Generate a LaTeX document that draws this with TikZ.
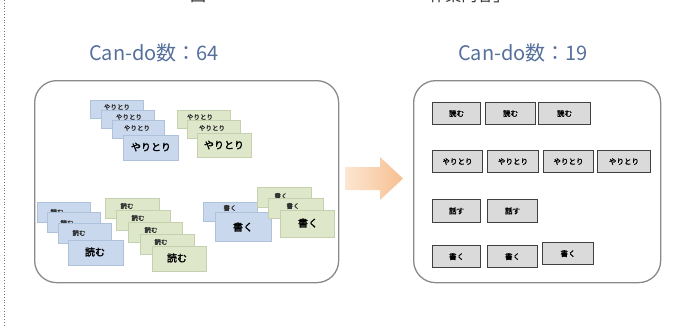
\documentclass[tikz,border=0pt]{standalone}
\usepackage{fontspec}
\newfontfamily\cjk[AutoFakeBold=2]{Noto Sans CJK JP}
\definecolor{titleblue}{HTML}{56709C}
\definecolor{cardblue}{HTML}{C9D8EC}
\definecolor{cardblueedge}{HTML}{AFC2DC}
\definecolor{cardgreen}{HTML}{DFE7CB}
\definecolor{cardgreenedge}{HTML}{C5D0AE}
\definecolor{boxgray}{HTML}{8A8A8A}
\definecolor{graycard}{HTML}{DADADA}
\definecolor{arrowL}{HTML}{FDE6D2}
\definecolor{arrowR}{HTML}{F6BF90}
\tikzset{
  bigbox/.style={draw=boxgray, line width=1.3pt, rounded corners=22pt, fill=white, anchor=north west, inner sep=0pt},
  titletext/.style={font=\cjk\fontsize{20}{22}\selectfont, text=titleblue},
  bcard/.style={fill=cardblue, draw=cardblueedge, line width=0.4pt, anchor=north west, inner sep=0pt},
  gcard/.style={fill=cardgreen, draw=cardgreenedge, line width=0.4pt, anchor=north west, inner sep=0pt},
  smalltxt/.style={font=\cjk\fontsize{6.5}{7}\selectfont\bfseries, text=black!80},
  bigtxt/.style={font=\cjk\fontsize{10}{11}\selectfont\bfseries, text=black},
  greycard/.style={fill=graycard, draw=black!75, line width=1.1pt, anchor=north west, inner sep=0pt,
    font=\cjk\fontsize{7.5}{8}\selectfont\bfseries, text=black},
  captiontxt/.style={font=\cjk\fontsize{16}{16}\selectfont, text=black!80}
}
% \mycard{style}{name}{x}{y}{w}{h}
\newcommand\mycard[6]{\node[#1, minimum width=#5pt, minimum height=#6pt] (#2) at (#3,#4) {};}
\begin{document}
\begin{tikzpicture}[x=1pt,y=-1pt]
\useasboundingbox (0,0) rectangle (695,327);
% dotted margin line
\coordinate (d1) at (4,0);
\coordinate (d2) at (4,327);
\draw[black!55, dotted, line width=0.8pt] (d1) -- (d2);
% cut-off caption (only its lower edge shows, as in the reference)
\node[captiontxt, anchor=base] (cap1) at (198,1) {図};
\node[captiontxt, anchor=base east] (cap2) at (513,1) {作業内容」};
% titles
\node[titletext] (tL) at (154,53) {Can-do数：64};
\node[titletext] (tR) at (523,53) {Can-do数：19};
% boxes
\node[bigbox, minimum width=304pt, minimum height=202pt] (L) at (34,80) {};
\node[bigbox, minimum width=247pt, minimum height=202pt] (R) at (413,80) {};
% arrow
\shade[left color=arrowL, right color=arrowR]
  (345,167) -- (380,167) -- (380,157) -- (403,178.5) -- (380,200) -- (380,190) -- (345,190) -- cycle;

% ---- left: top blue stack (やりとり)
\mycard{bcard}{a1}{90}{100}{53}{18}
\node[smalltxt] (a1t) at ([shift={(27,7)}]a1.north west) {やりとり};
\mycard{bcard}{a2}{101}{110}{53}{18}
\node[smalltxt] (a2t) at ([shift={(28,7)}]a2.north west) {やりとり};
\mycard{bcard}{a3}{112}{120}{52}{18}
\node[smalltxt] (a3t) at ([shift={(25,8)}]a3.north west) {やりとり};
\mycard{bcard}{a4}{123}{135}{55}{25}
\node[bigtxt] (a4t) at ([shift={(28,12)}]a4.north west) {やりとり};
% ---- left: top green stack (やりとり)
\mycard{gcard}{b1}{177}{110}{53}{18}
\node[smalltxt] (b1t) at ([shift={(23,7)}]b1.north west) {やりとり};
\mycard{gcard}{b2}{187}{120}{53}{18}
\node[smalltxt] (b2t) at ([shift={(25,8)}]b2.north west) {やりとり};
\mycard{gcard}{b3}{197}{133}{54}{24}
\node[bigtxt] (b3t) at ([shift={(27,12)}]b3.north west) {やりとり};
% ---- left: bottom blue stack (読む)
\mycard{bcard}{c1}{37}{202}{53}{20}
\node[smalltxt] (c1t) at ([shift={(20,10)}]c1.north west) {読む};
\mycard{bcard}{c2}{47}{212}{53}{20}
\node[smalltxt] (c2t) at ([shift={(20,11)}]c2.north west) {読む};
\mycard{bcard}{c3}{58}{223}{53}{20}
\node[smalltxt] (c3t) at ([shift={(21,10)}]c3.north west) {読む};
\mycard{bcard}{c4}{68}{240}{55}{25}
\node[bigtxt] (c4t) at ([shift={(27,12)}]c4.north west) {読む};
% ---- left: bottom green stack (読む)
\mycard{gcard}{e1}{105}{198}{54}{20}
\node[smalltxt] (e1t) at ([shift={(22,8)}]e1.north west) {読む};
\mycard{gcard}{e2}{116}{210}{54}{20}
\node[smalltxt] (e2t) at ([shift={(22,8)}]e2.north west) {読む};
\mycard{gcard}{e3}{128}{222}{54}{20}
\node[smalltxt] (e3t) at ([shift={(23,8)}]e3.north west) {読む};
\mycard{gcard}{e4}{140}{234}{54}{20}
\node[smalltxt] (e4t) at ([shift={(21,8)}]e4.north west) {読む};
\mycard{gcard}{e5}{152}{246}{54}{25}
\node[bigtxt] (e5t) at ([shift={(25,12)}]e5.north west) {読む};
% ---- left: bottom-right blue stack (書く)
\mycard{bcard}{f1}{203}{202}{54}{19}
\node[smalltxt] (f1t) at ([shift={(27,6)}]f1.north west) {書く};
\mycard{bcard}{f2}{215}{212}{56}{29}
\node[bigtxt] (f2t) at ([shift={(28,15)}]f2.north west) {書く};
% ---- left: bottom-right green stack (書く)
\mycard{gcard}{g1}{257}{187}{54}{20}
\node[smalltxt] (g1t) at ([shift={(24,9)}]g1.north west) {書く};
\mycard{gcard}{g2}{268}{198}{55}{20}
\node[smalltxt] (g2t) at ([shift={(25,8)}]g2.north west) {書く};
\mycard{gcard}{g3}{280}{210}{54}{27}
\node[bigtxt] (g3t) at ([shift={(28,13)}]g3.north west) {書く};

% ---- right box cards
\node[greycard, minimum width=48pt, minimum height=22pt] (r11) at (432,102) {読む};
\node[greycard, minimum width=50pt, minimum height=22pt] (r12) at (485,102) {読む};
\node[greycard, minimum width=52pt, minimum height=22pt] (r13) at (538,102) {読む};

\node[greycard, minimum width=50pt, minimum height=22pt] (r21) at (432,150) {やりとり};
\node[greycard, minimum width=51pt, minimum height=22pt] (r22) at (487,150) {やりとり};
\node[greycard, minimum width=50pt, minimum height=22pt] (r23) at (543,150) {やりとり};
\node[greycard, minimum width=53pt, minimum height=22pt] (r24) at (597,150) {やりとり};

\node[greycard, minimum width=48pt, minimum height=23pt] (r31) at (432,199) {話す};
\node[greycard, minimum width=50pt, minimum height=23pt] (r32) at (487,199) {話す};

\node[greycard, minimum width=48pt, minimum height=22pt] (r41) at (432,245) {書く};
\node[greycard, minimum width=50pt, minimum height=22pt] (r42) at (487,245) {書く};
\node[greycard, minimum width=51pt, minimum height=22pt] (r43) at (542,242) {書く};
\end{tikzpicture}
\end{document}
